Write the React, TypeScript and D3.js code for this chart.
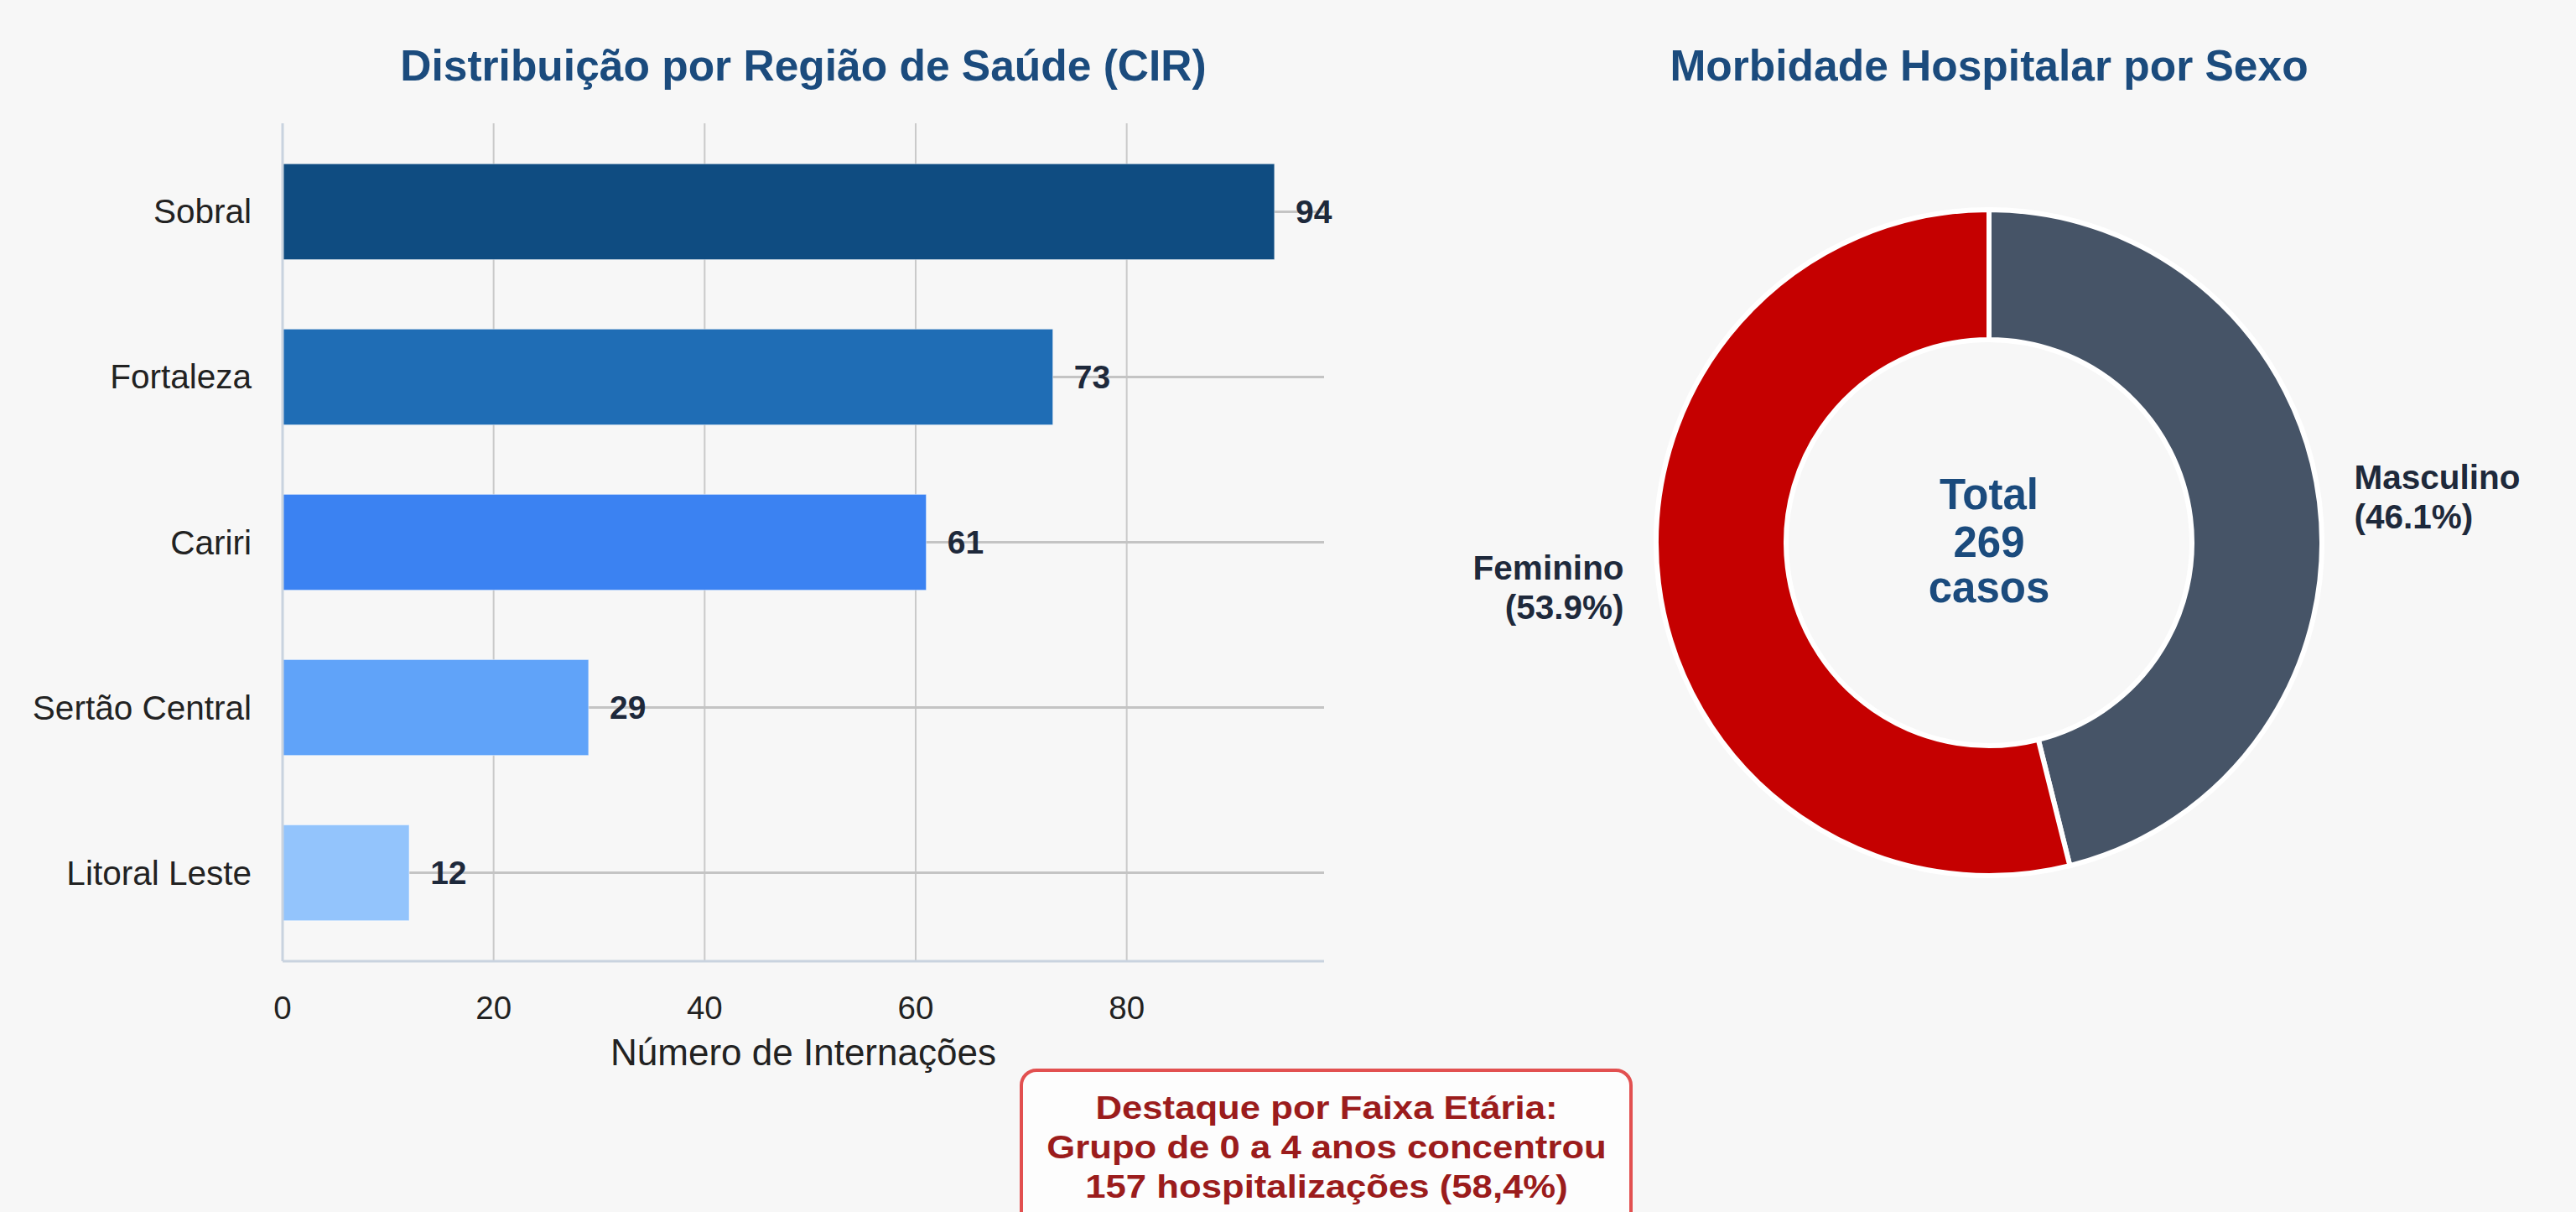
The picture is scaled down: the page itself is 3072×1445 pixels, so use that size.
import React from "react";
import * as d3 from "d3";

const W = 3072;
const H = 1445;

// ---- data ----
const regions = ["Sobral", "Fortaleza", "Cariri", "Sertão Central", "Litoral Leste"];
const regionValues = [94, 73, 61, 29, 12];
const regionColors = ["#0f4c81", "#1f6db5", "#3b82f2", "#60a3f9", "#93c4fc"];
const xTicks = [0, 20, 40, 60, 80];

const sexLabels = ["Masculino", "Feminino"];
const sexValues = [124, 145];
const sexColors = ["#465467", "#c50000"];

const leftTitle = "Distribuição por Região de Saúde (CIR)";
const rightTitle = "Morbidade Hospitalar por Sexo";
const xLabel = "Número de Internações";
const boxLines = [
  "Destaque por Faixa Etária:",
  "Grupo de 0 a 4 anos concentrou",
  "157 hospitalizações (58,4%)",
];

const FONT = "'Liberation Sans', Arial, Helvetica, sans-serif";

export default function App() {
  // bar chart frame
  const L = 337, R = 1579, T = 147, B = 1146;
  const x = d3.scaleLinear().domain([0, d3.max(regionValues)! * 1.05]).range([L, R]);
  const y = d3.scaleBand<string>().domain(regions).range([T, B]).paddingInner(0.42).paddingOuter(0.245);

  // donut
  const cx = 2372, cy = 647, rOuter = 397, rInner = 242;
  const total = d3.sum(sexValues);
  const pie = d3.pie<number>().sort(null).value((d) => d)(sexValues);
  const arc = d3.arc<d3.PieArcDatum<number>>().innerRadius(rInner).outerRadius(rOuter);

  return (
    <div style={{ position: "absolute", left: 0, top: 0 }}>
      <svg width={W} height={H} style={{ display: "block", fontFamily: FONT }}>
        <rect width={W} height={H} fill="#f7f7f7" />

        {/* left title */}
        <text x={(L + R) / 2} y={96} textAnchor="middle" fontSize={51.5} fontWeight="bold" fill="#1b4b7d">
          {leftTitle}
        </text>

        {/* vertical gridlines */}
        {xTicks.filter((t) => t > 0).map((t) => (
          <line key={"vg" + t} x1={x(t)} x2={x(t)} y1={T} y2={B} stroke="#cacaca" strokeWidth={2} />
        ))}
        {/* horizontal gridlines */}
        {regions.map((r) => (
          <line key={"hg" + r} x1={L} x2={R} y1={y(r)! + y.bandwidth() / 2} y2={y(r)! + y.bandwidth() / 2} stroke="#c4c4c4" strokeWidth={3} />
        ))}

        {/* bars */}
        {regions.map((r, i) => (
          <rect key={"b" + r} x={x(0)} y={y(r)} width={x(regionValues[i]) - x(0)} height={y.bandwidth()} fill={regionColors[i]} stroke="#ffffff" strokeOpacity={0.5} strokeWidth={1} />
        ))}

        {/* spines */}
        <line x1={L} x2={L} y1={T} y2={B} stroke="#c9d3df" strokeWidth={3} />
        <line x1={L} x2={R} y1={B} y2={B} stroke="#c9d3df" strokeWidth={3} />

        {/* value labels */}
        {regions.map((r, i) => (
          <text key={"v" + r} x={x(regionValues[i] + 2)} y={y(r)! + y.bandwidth() / 2} dominantBaseline="central" fontSize={39} fontWeight="bold" fill="#1e293b">
            {regionValues[i]}
          </text>
        ))}

        {/* category labels */}
        {regions.map((r) => (
          <text key={"c" + r} x={300} y={y(r)! + y.bandwidth() / 2} dominantBaseline="central" textAnchor="end" fontSize={40.5} fill="#222222">
            {r}
          </text>
        ))}

        {/* x tick labels */}
        {xTicks.map((t) => (
          <text key={"t" + t} x={x(t)} y={1215} textAnchor="middle" fontSize={38.5} fill="#222222">
            {t}
          </text>
        ))}
        <text x={(L + R) / 2} y={1270} textAnchor="middle" fontSize={44} fill="#222222">
          {xLabel}
        </text>

        {/* right title */}
        <text x={cx} y={96} textAnchor="middle" fontSize={51.5} fontWeight="bold" fill="#1b4b7d">
          {rightTitle}
        </text>

        {/* donut */}
        <g transform={`translate(${cx},${cy})`}>
          {pie.map((p, i) => (
            <path key={"s" + i} d={arc(p)!} fill={sexColors[i]} stroke="#ffffff" strokeWidth={6} />
          ))}
          {pie.map((p, i) => {
            const mid = (p.startAngle + p.endAngle) / 2;
            const lr = rOuter * 1.105;
            const lx = Math.sin(mid) * lr;
            const ly = -Math.cos(mid) * lr;
            const anchor = lx >= 0 ? "start" : "end";
            const pct = ((sexValues[i] / total) * 100).toFixed(1);
            return (
              <text key={"l" + i} x={lx} y={ly} textAnchor={anchor} fontSize={40.5} fontWeight="bold" fill="#1e293b">
                <tspan x={lx} dy={-10}>{sexLabels[i]}</tspan>
                <tspan x={lx} dy={47}>({pct}%)</tspan>
              </text>
            );
          })}
          <text textAnchor="middle" fontSize={51} fontWeight="bold" fill="#1b4b7d">
            <tspan x={0} y={-40}>Total</tspan>
            <tspan x={0} y={17}>{total}</tspan>
            <tspan x={0} y={71}>casos</tspan>
          </text>
        </g>

        {/* annotation box */}
        <rect x={1218} y={1276} width={727} height={200} rx={18} fill="#fdfdfd" stroke="#e25050" strokeWidth={4} />
        {boxLines.map((s, i) => (
          <text key={"bx" + i} transform={`translate(1582,${1334 + i * 47}) scale(1.15,1)`} textAnchor="middle" fontSize={38} fontWeight="bold" fill="#9b1c1c">
            {s}
          </text>
        ))}
      </svg>
    </div>
  );
}
